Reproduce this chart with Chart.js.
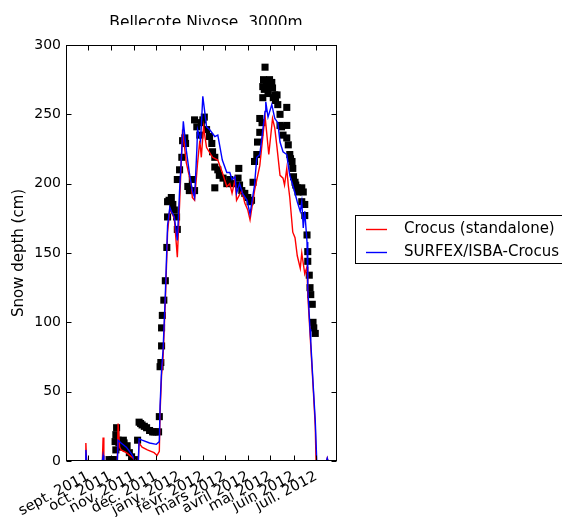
<!DOCTYPE html>
<html>
<head>
<meta charset="utf-8">
<title>Bellecote Nivose, 3000m</title>
<script src="https://cdn.jsdelivr.net/npm/chart.js@4.4.1/dist/chart.umd.min.js"></script>
<style>
  html, body { margin: 0; padding: 0; background: #fff; }
</style>
</head>
<body>
<canvas id="snowChart" width="562" height="517"></canvas>
<script>
// Snow depth at Bellecote Nivose (3000m), winter 2011-2012
// x values are days since 1 Aug 2011

var TITLE = 'Bellecote Nivose, 3000m';
var Y_LABEL = 'Snow depth (cm)';
var FONT = 'DejaVu Sans';

// month ticks (first day of each month)
var MONTH_DAYS = [31, 61, 92, 122, 153, 184, 213, 244, 274, 305, 335];
var MONTH_LABELS = ['sept. 2011', 'oct. 2011', 'nov. 2011', 'déc. 2011', 'janv. 2012',
  'févr. 2012', 'mars 2012', 'avril 2012', 'mai 2012', 'juin 2012', 'juil. 2012'];
var Y_TICKS = [0, 50, 100, 150, 200, 250, 300];

// SURFEX/ISBA-Crocus (blue)
var surfexDays = [0, 27, 28, 29, 50, 51, 52, 70, 71, 75, 82, 89, 94, 98, 99, 103, 113, 122, 126, 127,
  129, 131, 134, 137, 140, 142, 146, 150, 153, 158, 162, 166, 170, 173, 176, 177, 181, 184, 189, 193,
  200, 204, 206, 210, 216, 220, 223, 227, 229, 233, 237, 243, 247, 253, 256, 260, 267, 268, 271, 276,
  280, 284, 287, 291, 296, 298, 300, 304, 310, 314, 316, 318, 320, 323, 324, 327, 328, 331, 334, 336,
  349, 350, 351, 363];
var surfexDepth = [0, 0, 8, 0, 0, 4, 0, 0, 15, 13, 10, 5, 0, 0, 16, 15, 13, 12, 14, 40,
  66, 80, 120, 170, 183, 180, 176, 159, 195, 245, 224, 208, 195, 190, 224, 239, 231, 263, 241, 239,
  234, 235, 229, 217, 208, 208, 203, 205, 193, 200, 193, 188, 178, 199, 219, 221, 252, 259, 248, 257,
  247, 244, 230, 223, 221, 213, 206, 199, 187, 180, 187, 168, 180, 158, 125, 95, 86, 57, 29, 0,
  0, 2, 0, 0];

// Crocus standalone (red)
var crocusDays = [0, 27, 28, 29, 50, 51, 52, 70, 71, 73, 75, 82, 89, 95, 98, 99, 103, 110, 119, 123,
  126, 127, 129, 131, 134, 137, 140, 146, 150, 153, 157, 162, 169, 170, 173, 177, 180, 182, 185, 189,
  197, 204, 210, 216, 220, 223, 227, 229, 236, 240, 244, 247, 253, 260, 267, 272, 277, 280, 283, 287,
  291, 293, 296, 298, 300, 304, 307, 310, 314, 316, 320, 323, 324, 327, 331, 334, 335, 349, 350, 351,
  363];
var crocusDepth = [0, 0, 13, 0, 0, 17, 0, 0, 27, 10, 8, 6, 3, 0, 0, 13, 10, 8, 6, 4,
  7, 35, 62, 75, 115, 165, 182, 175, 147, 185, 239, 215, 198, 190, 188, 215, 231, 219, 241, 226,
  219, 217, 208, 198, 200, 193, 203, 188, 195, 186, 181, 174, 195, 213, 249, 221, 247, 240, 226, 206,
  204, 199, 211, 199, 190, 165, 161, 148, 139, 150, 135, 140, 120, 92, 55, 25, 0, 0, 2, 0,
  0];

// observed snow depth (black squares)
var obsDays = [59, 63, 66, 67, 68, 68, 69, 71, 72, 75, 78, 79, 82, 83, 86, 89, 93, 97, 99, 101,
  103, 106, 109, 113, 117, 119, 122, 125, 126, 127, 128, 129, 129, 130, 132, 134, 136, 137, 137, 139,
  142, 144, 146, 149, 150, 150, 153, 156, 157, 160, 161, 164, 166, 170, 173, 173, 176, 180, 182, 184,
  186, 189, 193, 196, 197, 200, 200, 200, 204, 206, 211, 216, 220, 224, 231, 232, 233, 236, 240, 244,
  247, 249, 251, 253, 256, 257, 260, 260, 263, 264, 264, 265, 266, 267, 269, 270, 271, 273, 274, 276,
  277, 278, 280, 281, 283, 284, 287, 287, 289, 291, 296, 296, 296, 298, 300, 301, 303, 304, 305, 307,
  308, 310, 311, 313, 316, 316, 318, 320, 320, 323, 324, 324, 326, 327, 328, 330, 331, 332, 334];
var obsDepth = [1, 1, 1, 14, 8, 19, 24, 15, 13, 10, 15, 13, 9, 11, 6, 3, 1, 15, 28, 27,
  26, 25, 24, 22, 21, 21, 21, 21, 32, 68, 71, 83, 96, 105, 116, 130, 154, 176, 187, 188,
  190, 185, 181, 176, 167, 203, 210, 219, 231, 233, 229, 198, 195, 203, 195, 246, 241, 235, 244, 246,
  248, 239, 234, 229, 223, 219, 212, 197, 210, 206, 204, 200, 203, 200, 204, 211, 199, 195, 193, 190,
  187, 188, 201, 216, 221, 230, 237, 247, 244, 262, 270, 275, 268, 284, 273, 270, 265, 275, 272, 273,
  269, 262, 264, 260, 264, 257, 250, 242, 241, 235, 255, 242, 233, 228, 221, 218, 216, 211, 205, 201,
  199, 197, 194, 196, 197, 187, 194, 185, 177, 163, 151, 144, 134, 125, 120, 113, 100, 96, 92];

function toPoints(xs, ys) {
  return xs.map(function (x, i) { return { x: x, y: ys[i] }; });
}

// matplotlib look: full frame, inward ticks, clipped title, axis label, boxed legend
var framePlugin = {
  id: 'frame',
  afterDraw: function (chart) {
    var ctx = chart.ctx;
    var a = chart.chartArea;
    var xs = chart.scales.x, ys = chart.scales.y;
    var L = a.left + 0.5, R = a.right - 0.5, T = a.top + 0.5, B = a.bottom - 0.5;
    ctx.save();
    ctx.strokeStyle = '#000';
    ctx.lineWidth = 1;
    ctx.strokeRect(L, T, R - L, B - T);

    ctx.beginPath();
    Y_TICKS.forEach(function (v) {
      var py = Math.round(ys.getPixelForValue(v)) + 0.5;
      ctx.moveTo(L, py); ctx.lineTo(L + 5, py);
      ctx.moveTo(R, py); ctx.lineTo(R - 5, py);
    });
    MONTH_DAYS.forEach(function (d) {
      var px = Math.round(xs.getPixelForValue(d)) + 0.5;
      ctx.moveTo(px, B); ctx.lineTo(px, B - 5);
      ctx.moveTo(px, T); ctx.lineTo(px, T + 5);
    });
    ctx.stroke();

    // title, cut off at the bottom like in the source figure
    ctx.save();
    ctx.beginPath();
    ctx.rect(0, 0, chart.width, 25);
    ctx.clip();
    ctx.fillStyle = '#000';
    ctx.font = '15.5px "' + FONT + '"';
    ctx.textAlign = 'center';
    ctx.textBaseline = 'alphabetic';
    ctx.fillText(TITLE, 206, 26.5);
    ctx.restore();

    // y axis label
    ctx.save();
    ctx.translate(19, (a.top + a.bottom) / 2);
    ctx.rotate(-Math.PI / 2);
    ctx.fillStyle = '#000';
    ctx.font = '15px "' + FONT + '"';
    ctx.textAlign = 'center';
    ctx.textBaseline = 'middle';
    ctx.fillText(Y_LABEL, 0, 0);
    ctx.restore();

    // legend box outside the axes
    ctx.fillStyle = '#fff';
    ctx.fillRect(355.5, 215.5, 220, 48);
    ctx.strokeRect(355.5, 215.5, 220, 48);
    var items = [
      { text: 'Crocus (standalone)', color: 'red', y: 229 },
      { text: 'SURFEX/ISBA-Crocus', color: 'blue', y: 252 }
    ];
    ctx.font = '15px "' + FONT + '"';
    ctx.textAlign = 'left';
    ctx.textBaseline = 'middle';
    items.forEach(function (it) {
      ctx.strokeStyle = it.color;
      ctx.lineWidth = 1.4;
      ctx.beginPath();
      ctx.moveTo(366, it.y + 0.5);
      ctx.lineTo(387, it.y + 0.5);
      ctx.stroke();
      ctx.fillStyle = '#000';
      ctx.fillText(it.text, 404, it.y);
    });
    ctx.restore();
  }
};

new Chart(document.getElementById('snowChart').getContext('2d'), {
  type: 'scatter',
  data: {
    datasets: [{
      label: 'SURFEX/ISBA-Crocus',
      data: toPoints(surfexDays, surfexDepth),
      showLine: true,
      borderColor: 'blue',
      borderWidth: 1.4,
      pointRadius: 0,
      fill: false
    }, {
      label: 'Crocus (standalone)',
      data: toPoints(crocusDays, crocusDepth),
      showLine: true,
      borderColor: 'red',
      borderWidth: 1.4,
      pointRadius: 0,
      fill: false
    }, {
      label: 'Observations',
      data: toPoints(obsDays, obsDepth),
      pointStyle: 'rect',
      pointRadius: 5,
      backgroundColor: '#000',
      borderColor: '#000',
      borderWidth: 0
    }]
  },
  options: {
    responsive: false,
    animation: false,
    events: [],
    layout: { padding: { top: 45, right: 225, left: 0, bottom: 0 } },
    plugins: {
      legend: { display: false },
      tooltip: { enabled: false }
    },
    scales: {
      x: {
        type: 'linear',
        min: 1.5,
        max: 363,
        afterBuildTicks: function (scale) {
          scale.ticks = MONTH_DAYS.map(function (d) { return { value: d }; });
        },
        afterFit: function (scale) { scale.height = 56; },
        grid: { display: false, drawTicks: false },
        border: { display: false },
        ticks: {
          autoSkip: false,
          minRotation: 28,
          maxRotation: 28,
          padding: 7,
          color: '#000',
          font: { family: FONT, size: 14.5 },
          callback: function (value) {
            var i = MONTH_DAYS.indexOf(value);
            return i >= 0 ? MONTH_LABELS[i] : '';
          }
        }
      },
      y: {
        min: 0,
        max: 300,
        afterFit: function (scale) { scale.width = 66; },
        grid: { display: false, drawTicks: false },
        border: { display: false },
        ticks: {
          stepSize: 50,
          padding: 5,
          color: '#000',
          font: { family: FONT, size: 14 }
        }
      }
    }
  },
  plugins: [framePlugin]
});
</script>
</body>
</html>
